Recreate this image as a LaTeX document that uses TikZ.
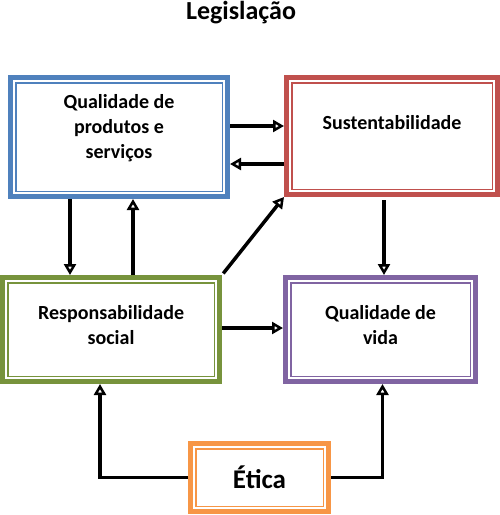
\documentclass[tikz,border=0pt]{standalone}
\usepackage{fontspec}
\setmainfont{Carlito}
\usetikzlibrary{arrows.meta}
\definecolor{azul}{RGB}{79,129,189}
\definecolor{vermelho}{RGB}{192,80,77}
\definecolor{verde}{RGB}{119,147,60}
\definecolor{roxo}{RGB}{128,100,162}
\definecolor{laranja}{RGB}{247,150,70}
\begin{document}
\begin{tikzpicture}[x=1pt, y=-1pt,
    caixa/.style={shape=rectangle, draw=#1, line width=5pt, fill=white},
    rotulo/.style={align=center, font=\fontsize{20}{25}\selectfont\bfseries},
    seta/.style={line width=3.5pt, -{Triangle[open, fill=white, line width=2.5pt, length=11pt, width=12pt]}}]
    \useasboundingbox (0,0) rectangle (500,515);

    \node[font=\fontsize{26}{30}\selectfont\bfseries, anchor=base] (T) at (241,19) {Legislação};

    \node[caixa=azul, minimum width=217pt, minimum height=119pt] (A) at (119,137) {};
    \node[caixa=vermelho, minimum width=211pt, minimum height=117pt] (B) at (392,136) {};
    \node[caixa=verde, minimum width=217pt, minimum height=104pt] (C) at (111,329.5) {};
    \node[caixa=roxo, minimum width=190pt, minimum height=104pt] (D) at (380.5,329.5) {};
    \node[caixa=laranja, minimum width=138pt, minimum height=68pt] (E) at (259.5,477.5) {};

    % inner thin borders
    \foreach \n/\c in {A/azul, B/vermelho, C/verde, D/roxo, E/laranja}
        \draw[\c, line width=1.5pt] ([shift={(7.75pt,-7.75pt)}]\n.north west) rectangle ([shift={(-7.75pt,7.75pt)}]\n.south east);

    \node[rotulo] (At) at ([yshift=9pt]A.center) {Qualidade de\\produtos e\\serviços};
    \node[rotulo] (Bt) at ([yshift=13pt]B.center) {Sustentabilidade};
    \node[rotulo] (Ct) at ([yshift=4pt]C.center) {Responsabilidade\\social};
    \node[rotulo] (Dt) at ([yshift=4pt]D.center) {Qualidade de\\vida};
    \node[font=\fontsize{27}{32}\selectfont\bfseries] (Et) at (E.center) {Ética};

    \draw[seta] ([yshift=11pt]A.east) -- ([yshift=11pt]A.east -| B.west);
    \draw[seta] ([yshift=-28pt]B.west) -- ([yshift=-28pt]B.west -| A.east);
    \draw[seta] ([xshift=-49pt]A.south) -- ([xshift=-49pt]A.south |- C.north);
    \draw[seta] ([xshift=22pt]C.north) -- ([xshift=22pt]C.north |- A.south);
    \draw[seta, shorten <=2pt] (C.north east) -- (B.south west);
    \draw[seta] ([yshift=1.5pt]C.east) -- ([yshift=1.5pt]C.east -| D.west);
    \draw[seta, shorten <=3pt] ([xshift=-8pt]B.south) -- ([xshift=-8pt]B.south |- D.north);
    \draw[seta] (E.west) -| ([xshift=-11pt]C.south);
    \draw[seta] (E.east) -| ([xshift=2pt]D.south);
\end{tikzpicture}
\end{document}
